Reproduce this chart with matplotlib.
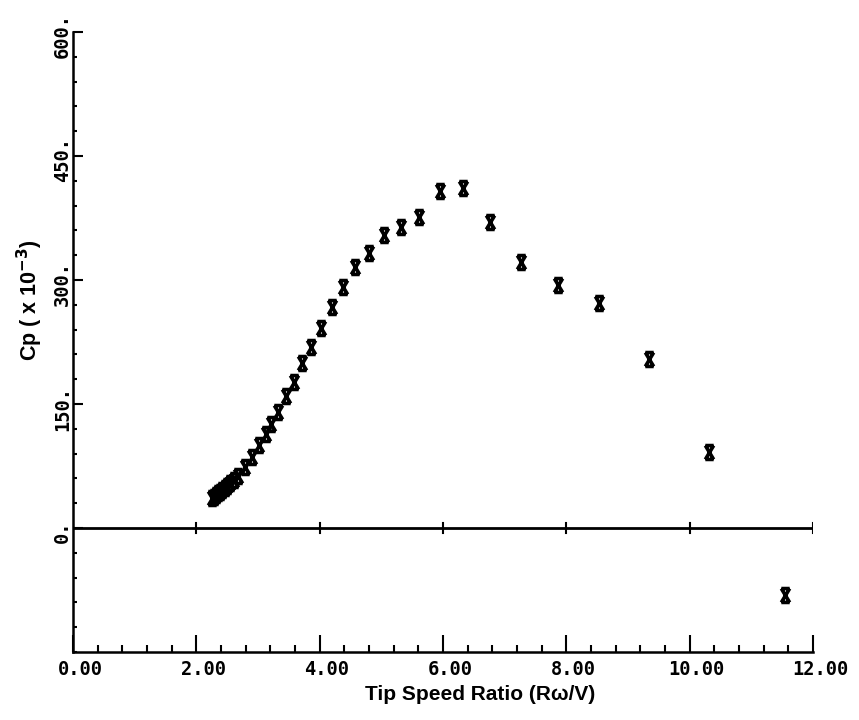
import numpy as np
import matplotlib
matplotlib.use("Agg")
import matplotlib.pyplot as plt
from matplotlib.path import Path
import matplotlib.transforms as mtransforms

# ── Data ──────────────────────────────────────────────────────────────────────
tsr = [2.26, 2.29, 2.32, 2.35, 2.38, 2.42, 2.46, 2.50, 2.55, 2.61, 2.68,
       2.79, 2.90, 3.02, 3.13, 3.21, 3.32, 3.45, 3.58, 3.71, 3.86, 4.02,
       4.20, 4.38, 4.57, 4.80, 5.04, 5.32, 5.61, 5.95, 6.32, 6.76, 7.26,
       7.86, 8.53, 9.34, 10.31, 11.55]
cp = [36, 38, 40, 42, 44, 46, 49, 51, 55, 58, 63,
      74, 86, 100, 114, 126, 140, 160, 177, 200, 219, 242,
      267, 291, 316, 333, 354, 364, 376, 408, 411, 370, 322,
      294, 272, 204, 92, -81]

x_major = [0, 2, 4, 6, 8, 10, 12]
x_labels = ["0.00", "2.00", "4.00", "6.00", "8.00", "10.00", "12.00"]
y_major = [0, 150, 300, 450, 600]
y_labels = ["0.", "150.", "300.", "450.", "600."]

# hourglass-like "X" marker used by the plotter
verts = [(-0.6, -1), (0.6, 1), (-0.6, 1), (0.6, -1), (-0.6, -1), (0.6, -1),
         (-0.6, 1), (0.6, 1)]
codes = [Path.MOVETO, Path.LINETO, Path.MOVETO, Path.LINETO,
         Path.MOVETO, Path.LINETO, Path.MOVETO, Path.LINETO]
xmark = Path(verts, codes)

mono = "DejaVu Sans Mono"

fig = plt.figure(figsize=(8.59, 7.2), dpi=100)
ax = fig.add_axes([0.085, 0.0944, 0.8615, 0.8612])

ax.plot(tsr, cp, linestyle="none", marker=xmark, ms=10, mew=2.6,
        color="black", mfc="none")

ax.set_xlim(0, 12)
ax.set_ylim(-150, 600)

for s in ["top", "right"]:
    ax.spines[s].set_visible(False)
for s in ["left", "bottom"]:
    ax.spines[s].set_linewidth(1.8)

# zero line with small crosses at major x ticks
ax.axhline(0, color="black", lw=2.0, xmin=0, xmax=1)
for xv in x_major[1:]:
    ax.plot([xv, xv], [-6, 6], color="black", lw=1.5)

ax.set_xticks(x_major)
ax.set_xticks(np.arange(0, 12.01, 0.4), minor=True)
ax.set_yticks(y_major)
ax.set_yticks(np.arange(-150, 600.1, 30), minor=True)
ax.tick_params(axis="x", which="major", direction="in", length=12, width=1.5)
ax.tick_params(axis="x", which="minor", direction="in", length=5, width=1.5)
ax.tick_params(axis="y", which="major", direction="in", length=7, width=1.5)
ax.tick_params(axis="y", which="minor", direction="in", length=3, width=1.5)
ax.set_xticklabels([])
ax.set_yticklabels([])

# tick labels drawn by hand, in the plotter's mono font
xoff = mtransforms.offset_copy(ax.get_xaxis_transform(), fig=fig, x=7, y=-8,
                               units="dots")
for xv, lab in zip(x_major, x_labels):
    ax.text(xv, 0, lab, transform=xoff, ha="center", va="top",
            fontsize=13.5, family=mono, fontweight="bold")

yoff = mtransforms.offset_copy(ax.get_yaxis_transform(), fig=fig, x=-1, y=-4,
                               units="dots")
for yv, lab in zip(y_major, y_labels):
    ax.text(0, yv, lab, transform=yoff, ha="right", va="center",
            rotation=90, fontsize=13.5, family=mono, fontweight="bold")

fig.text(480 / 859, 1 - 695 / 720, "Tip Speed Ratio (R\u03c9/V)",
         ha="center", va="center", fontsize=15, fontweight="bold",
         family="Liberation Sans")
fig.text(30 / 859, 1 - 300 / 720, r"Cp ( x 10$^{\mathbf{-3}}$)",
         ha="center", va="center", rotation=90, fontsize=15.5,
         fontweight="bold", family="Liberation Sans")

fig.savefig("out.png", dpi=100)
